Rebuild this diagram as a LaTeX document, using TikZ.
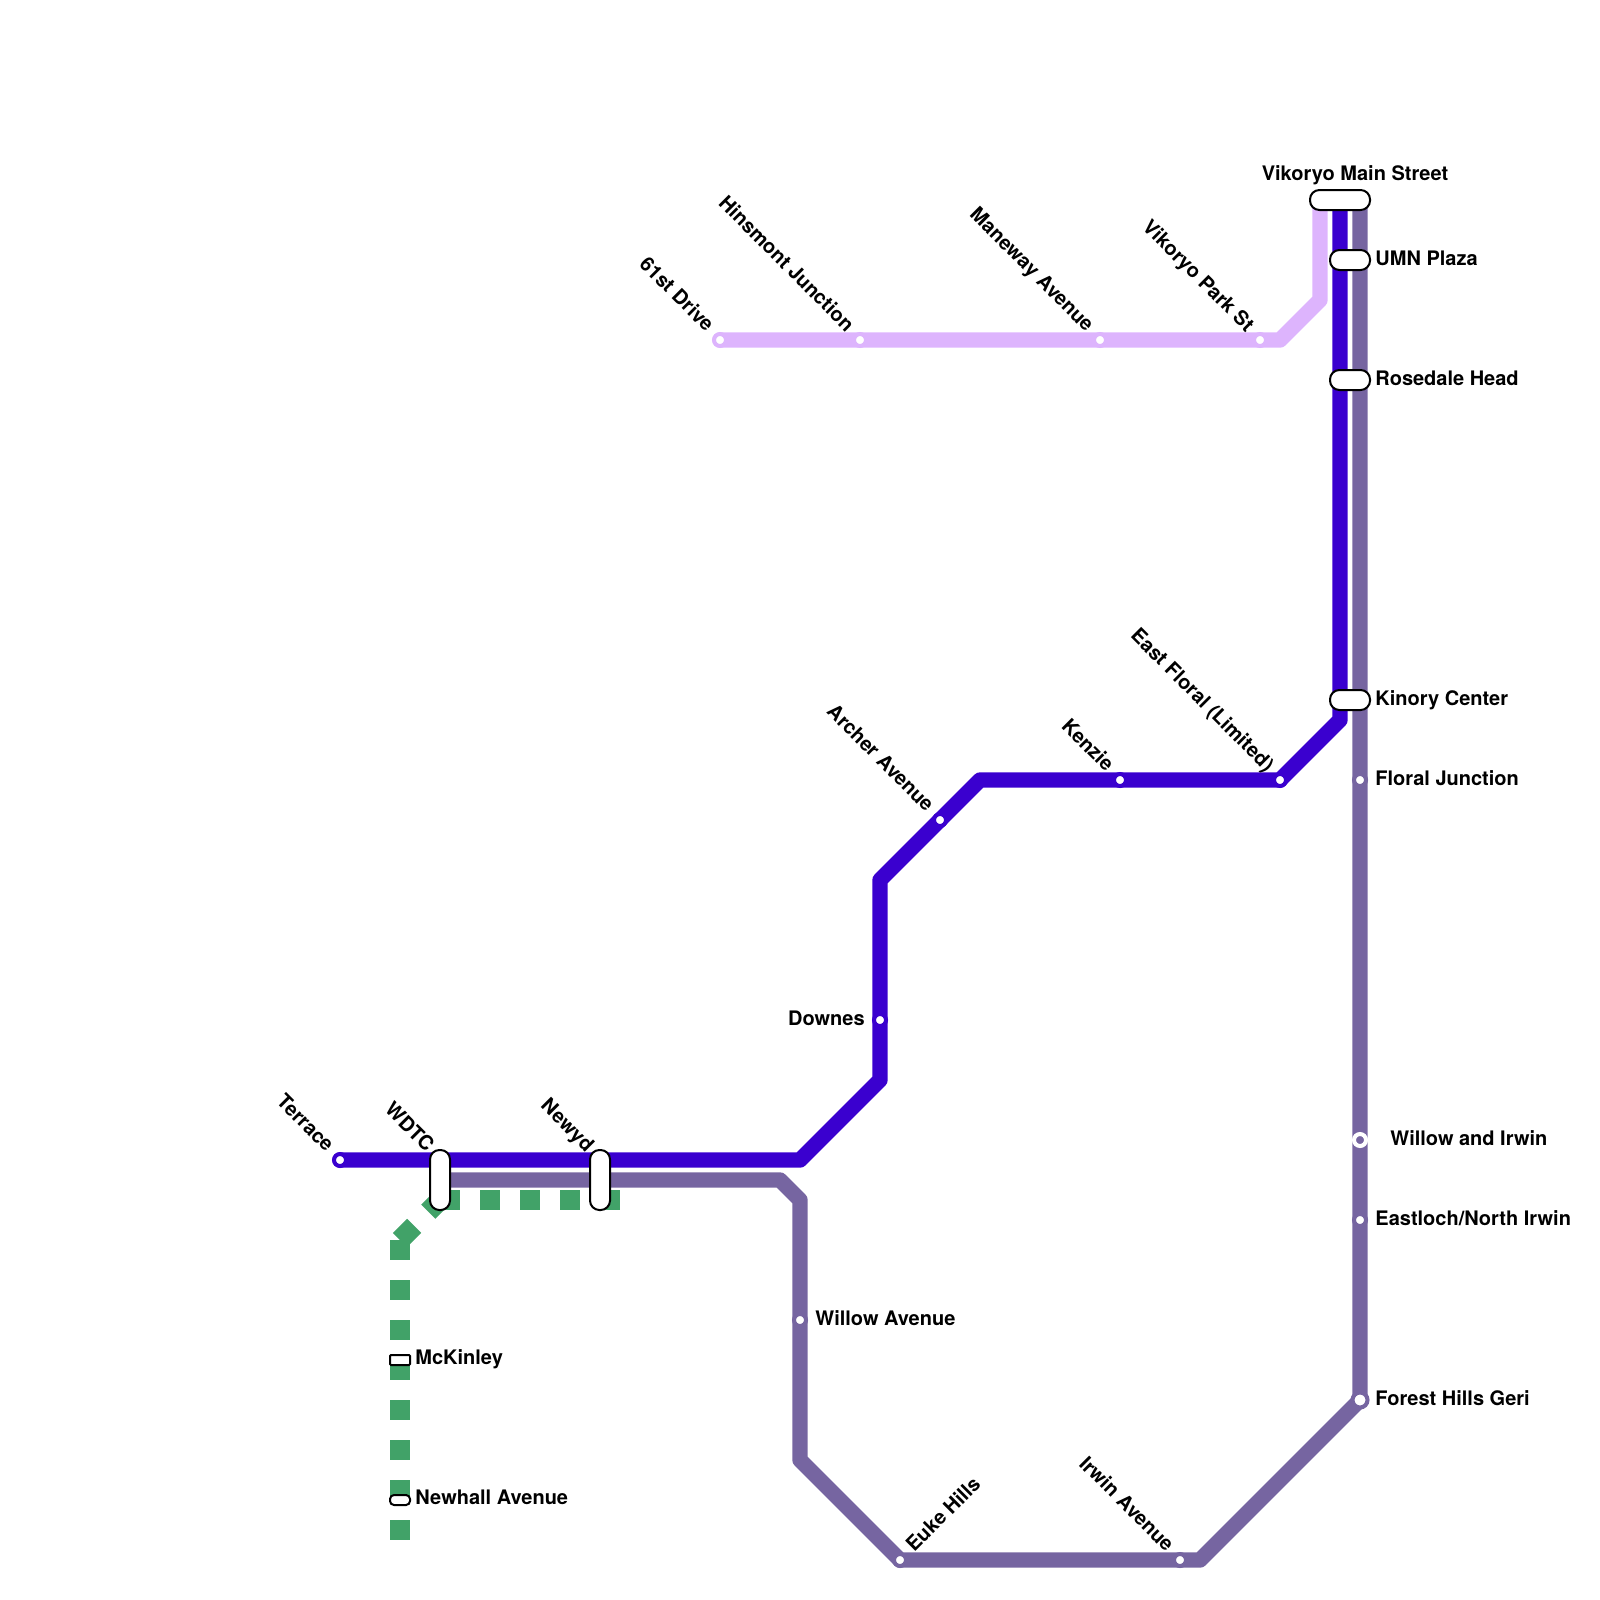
\documentclass[tikz,border=0pt]{standalone}
\usepackage{fontspec}
\setmainfont{TeX Gyre Heros}
\usepackage{tikz}
\usetikzlibrary{backgrounds}

\definecolor{lineblue}{HTML}{3A00CF}
\definecolor{linepurple}{HTML}{7665A1}
\definecolor{linelilac}{HTML}{DDB4FD}
\definecolor{linegreen}{HTML}{41A268}

\tikzset{
  metroline/.style={line width=7.7pt, line join=round},
  greenline/.style={line width=10pt, draw=linegreen, dash pattern=on 10pt off 10pt},
  stop/.style={circle, draw=#1, fill=white, line width=2pt, minimum size=6pt, inner sep=0pt},
  ringstop/.style={circle, draw=white, fill=linepurple, line width=2pt, minimum size=6pt, inner sep=0pt},
  pill/.style={draw=black, fill=white, line width=1pt, rounded corners=4.7pt, inner sep=0pt},
  lbl/.style={font=\bfseries, inner sep=0pt, text=black},
}

\begin{document}
\begin{tikzpicture}[x=0.5pt, y=-0.5pt]
    \useasboundingbox (0,0) rectangle (1600,1600);
    % Bends
    \coordinate (bl1) at (800,1160);
    \coordinate (bl2) at (880,1080);
    \coordinate (bl3) at (880,880);
    \coordinate (bl4) at (980,780);
    \coordinate (bl5) at (1340,720);
    \coordinate (bl6) at (1340,200);
    \coordinate (pu0) at (440,1180);
    \coordinate (pu1) at (780,1180);
    \coordinate (pu2) at (800,1200);
    \coordinate (pu3) at (800,1460);
    \coordinate (pu4) at (1200,1560);
    \coordinate (pu5) at (1360,200);
    \coordinate (li1) at (1280,340);
    \coordinate (li2) at (1320,300);
    \coordinate (li3) at (1320,200);
    \coordinate (gr0) at (620,1200);
    \coordinate (gr1) at (440,1200);
    \coordinate (gr2) at (400,1240);
    \coordinate (gr3) at (400,1540);
    % Stops
    \node[stop=linelilac] (drive) at (720,340) {};
    \node[stop=linelilac] (hinsmont) at (860,340) {};
    \node[stop=linelilac] (maneway) at (1100,340) {};
    \node[stop=linelilac] (vikpark) at (1260,340) {};
    \node[stop=lineblue] (terrace) at (340,1160) {};
    \node[stop=lineblue] (downes) at (880,1020) {};
    \node[stop=lineblue] (archer) at (940,820) {};
    \node[stop=lineblue] (kenzie) at (1120,780) {};
    \node[stop=lineblue] (eastfloral) at (1280,780) {};
    \node[stop=linepurple] (willowave) at (800,1320) {};
    \node[stop=linepurple] (euke) at (900,1560) {};
    \node[stop=linepurple] (irwinave) at (1180,1560) {};
    \node[stop=linepurple] (floral) at (1360,780) {};
    \node[ringstop] (willowirwin) at (1360,1140) {};
    \node[stop=linepurple] (eastloch) at (1360,1220) {};
    \node[stop=linepurple, minimum size=7.5pt] (forest) at (1360,1400) {};
    % Pills
    \node[pill, minimum width=10pt, minimum height=30pt] (wdtc) at (440,1180) {};
    \node[pill, minimum width=10pt, minimum height=30pt] (newyd) at (600,1180) {};
    \node[pill, minimum width=30pt, minimum height=10pt] (vikmain) at (1340,200) {};
    \node[pill, minimum width=20pt, minimum height=10pt] (umn) at (1350,260) {};
    \node[pill, minimum width=20pt, minimum height=10pt] (rosedale) at (1350,380) {};
    \node[pill, minimum width=20pt, minimum height=10pt] (kinory) at (1350,700) {};
    \node[pill, minimum width=10pt, minimum height=5pt, rounded corners=0.5pt] (mckinley) at (400,1360) {};
    \node[pill, minimum width=10pt, minimum height=5pt, rounded corners=2pt] (newhall) at (400,1500) {};
    % Lines
    \begin{scope}[on background layer]
      \draw[metroline, linelilac, line cap=round] (drive.center) -- (li1) -- (li2) -- (li3);
      \draw[metroline, linepurple] (pu0) -- (pu1) -- (pu2) -- (pu3) -- (euke.center) -- (pu4) -- (forest.center) -- (pu5);
      \draw[metroline, lineblue, line cap=round] (terrace.center) -- (bl1) -- (bl2) -- (bl3) -- (bl4) -- (eastfloral.center) -- (bl5) -- (bl6);
      \draw[greenline] (gr1) -- (gr0);
      \draw[greenline] (gr2) -- (gr1);
      \draw[greenline] (gr2) -- (gr3);
    \end{scope}
    % Labels, straight
    \node[lbl, anchor=base] (vikmainlbl) at (1355,180) {Vikoryo Main Street};
    \node[lbl, anchor=base west] (umnlbl) at (1375,265) {UMN Plaza};
    \node[lbl, anchor=base west] (rosedalelbl) at (1375,385) {Rosedale Head};
    \node[lbl, anchor=base west] (kinorylbl) at (1375,705) {Kinory Center};
    \node[lbl, anchor=base west] (florallbl) at (1375,785) {Floral Junction};
    \node[lbl, anchor=base west] (willowirwinlbl) at (1390,1145) {Willow and Irwin};
    \node[lbl, anchor=base west] (eastlochlbl) at (1375,1225) {Eastloch/North Irwin};
    \node[lbl, anchor=base west] (forestlbl) at (1375,1405) {Forest Hills Geri};
    \node[lbl, anchor=base west] (willowavelbl) at (815,1325) {Willow Avenue};
    \node[lbl, anchor=base east] (downeslbl) at (865,1025) {Downes};
    \node[lbl, anchor=base west] (mckinleylbl) at (415,1364) {McKinley};
    \node[lbl, anchor=base west] (newhalllbl) at (415,1504) {Newhall Avenue};
    % Labels, slanted
    \node[lbl, anchor=base east, rotate=-45] (drivelbl) at (706,333) {61st Drive};
    \node[lbl, anchor=base east, rotate=-45] (hinsmontlbl) at (846,333) {Hinsmont Junction};
    \node[lbl, anchor=base east, rotate=-45] (manewaylbl) at (1086,333) {Maneway Avenue};
    \node[lbl, anchor=base east, rotate=-45] (vikparklbl) at (1246,333) {Vikoryo Park St};
    \node[lbl, anchor=base east, rotate=-45] (terracelbl) at (326,1153) {Terrace};
    \node[lbl, anchor=base east, rotate=-45] (wdtclbl) at (426,1153) {WDTC};
    \node[lbl, anchor=base east, rotate=-45] (newydlbl) at (586,1153) {Newyd};
    \node[lbl, anchor=base east, rotate=-45] (archerlbl) at (926,813) {Archer Avenue};
    \node[lbl, anchor=base east, rotate=-45] (kenzielbl) at (1106,773) {Kenzie};
    \node[lbl, anchor=base east, rotate=-45] (eastflorallbl) at (1266,773) {East Floral (Limited)};
    \node[lbl, anchor=base east, rotate=-45] (irwinavelbl) at (1166,1553) {Irwin Avenue};
    \node[lbl, anchor=base west, rotate=45] (eukelbl) at (914,1553) {Euke Hills};
\end{tikzpicture}
\end{document}
